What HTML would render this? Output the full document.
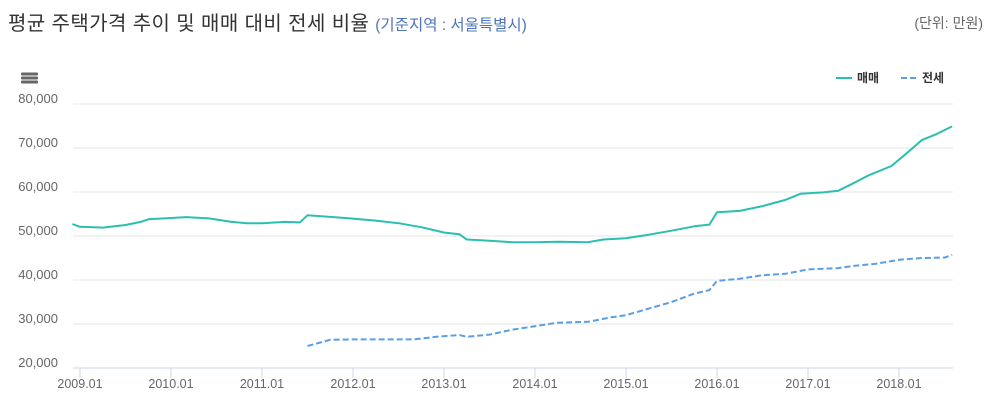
<!DOCTYPE html>
<html><head><meta charset="utf-8">
<style>
html,body{margin:0;padding:0;background:#fff;width:993px;height:413px;overflow:hidden;font-family:"Liberation Sans","Noto Sans CJK KR",sans-serif;}
#title{position:absolute;left:8px;top:7px;font-size:20px;color:#333;white-space:nowrap;letter-spacing:0.4px}
#title span{font-size:15.5px;color:#4d74b8;letter-spacing:0}
#unit{position:absolute;right:10px;top:13px;font-size:14px;color:#666}
svg{position:absolute;left:0;top:0}
</style></head><body>
<div id="title">평균 주택가격 추이 및 매매 대비 전세 비율 <span>(기준지역 : 서울특별시)</span></div>
<div id="unit">(단위: 만원)</div>
<svg id="chart" width="993" height="413"></svg>
<script>
const yTicks=[20000,30000,40000,50000,60000,70000,80000];
const xTickLabels=["2009.01","2010.01","2011.01","2012.01","2013.01","2014.01","2015.01","2016.01","2017.01","2018.01"];
const saleMonths=["2008.12","2009.01","2009.04","2009.07","2009.09","2009.10","2010.01","2010.03","2010.06","2010.09","2010.11","2011.01","2011.04","2011.06","2011.07","2011.12","2012.04","2012.07","2012.10","2013.01","2013.03","2013.04","2013.07","2013.10","2014.01","2014.04","2014.08","2014.10","2015.01","2015.04","2015.07","2015.10","2015.12","2016.01","2016.04","2016.07","2016.10","2016.12","2017.03","2017.05","2017.07","2017.09","2017.12","2018.02","2018.04","2018.06","2018.08"];
const saleValues=[52700,52100,51900,52500,53200,53800,54100,54300,54000,53200,52900,52900,53200,53100,54700,54100,53500,52900,52000,50800,50400,49200,48900,48600,48600,48700,48600,49200,49500,50300,51200,52200,52600,55400,55700,56800,58200,59600,59900,60300,62000,63800,65900,68800,71800,73200,74900];
const rentMonths=["2011.07","2011.10","2012.01","2012.09","2012.12","2013.03","2013.04","2013.07","2013.10","2014.01","2014.04","2014.08","2014.11","2015.01","2015.04","2015.07","2015.10","2015.12","2016.01","2016.04","2016.07","2016.10","2017.01","2017.05","2017.07","2017.10","2018.01","2018.04","2018.07","2018.08"];
const rentValues=[25000,26400,26500,26500,27100,27500,27100,27600,28700,29500,30300,30500,31500,32000,33500,35000,36900,37700,39800,40300,41100,41400,42400,42700,43200,43700,44600,45000,45100,45700];

const NS="http://www.w3.org/2000/svg";
const svg=document.getElementById('chart');
const L=73,R=953,T=104,B=368;
function mIdx(s){const [y,m]=s.split('.').map(Number);return (y-2009)*12+(m-1);}
function xs(s){return 80+mIdx(s)*91/12;}
function ys(v){return B-(v-20000)/60000*(B-T);}
function mk(tag,attrs){const e=document.createElementNS(NS,tag);for(const k in attrs)e.setAttribute(k,attrs[k]);svg.appendChild(e);return e;}

yTicks.forEach(v=>{
  const g=mk('line',{x1:L,x2:R,y1:ys(v),y2:ys(v),stroke:v===20000?'#ccd6eb':'#e6e6e6','stroke-width':1});
  
  
  const t=mk('text',{x:58,y:ys(v)-1,'text-anchor':'end','font-size':13,fill:'#666','font-family':'Liberation Sans, sans-serif'});
  t.textContent=v.toLocaleString('en-US');
  
  
});
xTickLabels.forEach(s=>{
  const x=xs(s);
  const l=mk('line',{x1:x,x2:x,y1:B,y2:B+10,stroke:'#ccd6eb','stroke-width':1});
  
  
  const t=mk('text',{x:x,y:388,'text-anchor':'middle','font-size':12.5,fill:'#666','font-family':'Liberation Sans, sans-serif'});
  t.textContent=s;
  
  
});
function path(months,vals){return months.map((m,i)=>(i?'L':'M')+xs(m).toFixed(1)+','+ys(vals[i]).toFixed(1)).join(' ');}
const s1=mk('path',{d:path(saleMonths,saleValues),fill:'none',stroke:'#2bbfb0','stroke-width':2,'stroke-linejoin':'round'});


const s2=mk('path',{d:path(rentMonths,rentValues),fill:'none',stroke:'#5b9ee6','stroke-width':2,'stroke-dasharray':'6,3'});



[74,78,82].forEach(y=>{const r=mk('rect',{x:21,y:y-1.5,width:17,height:3,rx:1,fill:'#666'});

});
const l1=mk('line',{x1:836,x2:852,y1:78,y2:78,stroke:'#2bbfb0','stroke-width':2});


const t1=mk('text',{x:857,y:82,'font-size':12,'font-weight':'bold',fill:'#333','font-family':'Liberation Sans, Noto Sans CJK KR, sans-serif'});t1.textContent='매매';


const l2=mk('line',{x1:901,x2:917,y1:78,y2:78,stroke:'#5b9ee6','stroke-width':2,'stroke-dasharray':'6,3'});


const t2=mk('text',{x:922,y:82,'font-size':12,'font-weight':'bold',fill:'#333','font-family':'Liberation Sans, Noto Sans CJK KR, sans-serif'});t2.textContent='전세';


</script>
</body></html>
